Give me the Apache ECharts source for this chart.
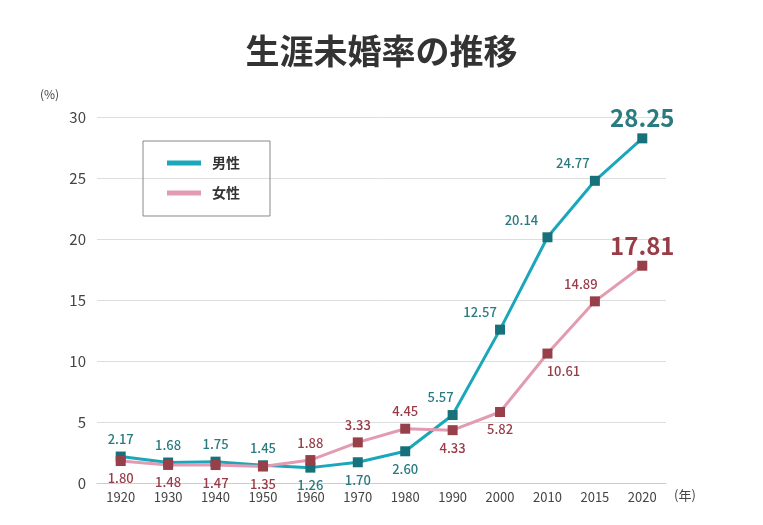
<!DOCTYPE html>
<html>
<head>
<meta charset="utf-8">
<style>
  html, body { margin: 0; padding: 0; background: #fff; }
  #chart { width: 763px; height: 525px; }
</style>
<script src="https://cdn.jsdelivr.net/npm/echarts@6/dist/echarts.min.js"></script>
</head>
<body>
<div id="chart"></div>
<script>
const years = ['1920', '1930', '1940', '1950', '1960', '1970', '1980', '1990', '2000', '2010', '2015', '2020'];
const male = [2.17, 1.68, 1.75, 1.45, 1.26, 1.70, 2.60, 5.57, 12.57, 20.14, 24.77, 28.25];
const female = [1.80, 1.48, 1.47, 1.35, 1.88, 3.33, 4.45, 4.33, 5.82, 10.61, 14.89, 17.81];

// label placement per point
const malePos = ['top', 'top', 'top', 'top', 'bottom', 'bottom', 'bottom', 'top', 'top', 'top', 'top', 'top'];
const maleOff = [[0, 0], [0, 0], [0, 0], [0, 0], [0, 0], [0, 0], [0, 0], [-12, 0], [-20, 0], [-26, 0], [-22, 0], [0, 0]];
const femalePos = ['bottom', 'bottom', 'bottom', 'bottom', 'top', 'top', 'top', 'bottom', 'bottom', 'bottom', 'top', 'top'];
const femaleOff = [[0, 0], [0, 0], [0, 0], [0, 0], [0, 0], [0, 0], [0, 0], [0, 0], [0, 0], [16, 0], [-14, 0], [0, 0]];

const FONT = '"Noto Sans CJK JP", "Noto Sans", sans-serif';
const MALE_LINE = '#1aa7bb';
const FEMALE_LINE = '#e29bb1';

function points(values, pos, off, color) {
  return values.map((v, i) => {
    const last = i === values.length - 1;
    return {
      value: v,
      label: {
        show: true,
        position: pos[i],
        offset: off[i],
        distance: last ? 3 : 6,
        color: color,
        fontFamily: FONT,
        fontSize: last ? 24 : 13,
        fontWeight: last ? 'bold' : 500,
        formatter: p => p.value.toFixed(2)
      }
    };
  });
}

const chart = echarts.init(document.getElementById('chart'));
chart.setOption({
  animation: false,
  textStyle: { fontFamily: FONT },
  title: {
    text: '生涯未婚率の推移',
    left: 'center',
    top: 29,
    textStyle: { fontSize: 34, fontWeight: 'bold', color: '#333', fontFamily: FONT }
  },
  graphic: [{
    type: 'text',
    left: 40,
    top: 88,
    style: { text: '(%)', fill: '#444', fontSize: 12, fontFamily: FONT }
  }],
  legend: {
    orient: 'vertical',
    left: 143,
    top: 141,
    padding: [15, 30, 16, 24],
    itemGap: 16,
    itemWidth: 34,
    itemHeight: 5,
    borderColor: '#888',
    borderWidth: 1,
    icon: 'rect',
    textStyle: { fontSize: 14, fontWeight: 'bold', color: '#333', fontFamily: FONT, padding: [0, 0, 0, 6] },
    data: [
      { name: '男性', itemStyle: { color: MALE_LINE } },
      { name: '女性', itemStyle: { color: FEMALE_LINE } }
    ]
  },
  grid: { left: 97, right: 97, top: 117, bottom: 42 },
  xAxis: {
    type: 'category',
    data: years,
    name: '(年)',
    nameLocation: 'end',
    nameGap: 8,
    nameTextStyle: { color: '#444', fontSize: 13, verticalAlign: 'top', padding: [6, 0, 0, 0] },
    axisLine: { lineStyle: { color: '#ccc' } },
    axisTick: { alignWithLabel: true, length: 4, lineStyle: { color: '#ccc' } },
    axisLabel: { color: '#444', fontSize: 13, margin: 8 }
  },
  yAxis: {
    type: 'value',
    min: 0,
    max: 30,
    interval: 5,
    axisLine: { show: false },
    axisTick: { show: false },
    axisLabel: { color: '#444', fontSize: 15, margin: 11 },
    splitLine: { lineStyle: { color: '#ddd' } }
  },
  series: [
    {
      name: '男性',
      type: 'line',
      data: points(male, malePos, maleOff, '#2a7b80'),
      lineStyle: { width: 3, color: MALE_LINE },
      symbol: 'rect',
      symbolSize: 10,
      itemStyle: { color: '#17717a' }
    },
    {
      name: '女性',
      type: 'line',
      data: points(female, femalePos, femaleOff, '#983d48'),
      lineStyle: { width: 3, color: FEMALE_LINE },
      symbol: 'rect',
      symbolSize: 10,
      itemStyle: { color: '#97404a' }
    }
  ]
});
</script>
</body>
</html>
